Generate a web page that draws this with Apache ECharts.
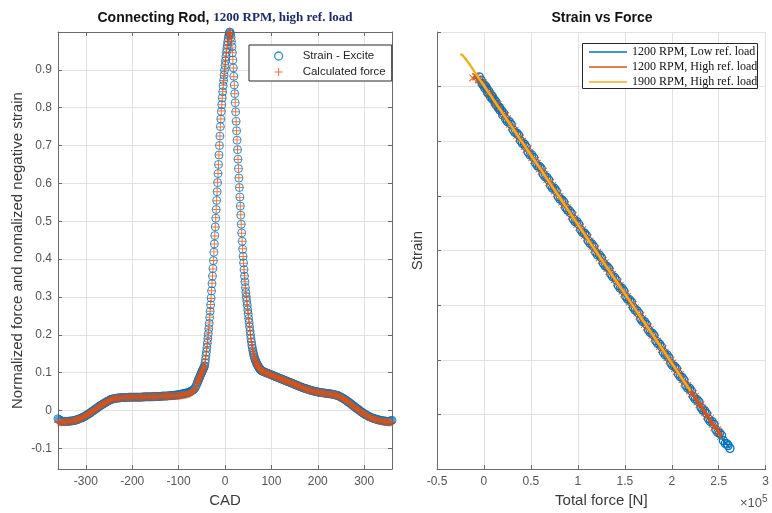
<!DOCTYPE html>
<html>
<head>
<meta charset="utf-8">
<script src="https://cdn.jsdelivr.net/npm/echarts/dist/echarts.min.js"></script>
<style>
html,body{margin:0;padding:0;background:#fff}
#chart{width:772px;height:513px}
</style>
</head>
<body>
<div id="chart"></div>
<script>
// Crank-angle sampling: 2 deg away from TDC, 1 deg around the firing peak
const preStart = -360, preStep = 2;    // -360 .. -62
const peakStart = -60, peakStep = 1;   // -60 .. 80
const postStart = 82, postStep = 2;    // 82 .. 360

// Normalized negative strain
const strainPre = [
  -0.022,-0.024,-0.026,-0.027,-0.028,-0.029,-0.029,-0.029,-0.029,-0.029, // -360
  -0.029,-0.029,-0.028,-0.028,-0.028,-0.028,-0.027,-0.027,-0.026,-0.026, // -340
  -0.025,-0.024,-0.023,-0.022,-0.021,-0.020,-0.019,-0.018,-0.017,-0.015, // -320
  -0.014,-0.012,-0.011,-0.009,-0.008,-0.006,-0.004,-0.002,-0.001,0.001,  // -300
  0.003,0.005,0.006,0.008,0.010,0.012,0.013,0.015,0.016,0.018,           // -280
  0.019,0.021,0.022,0.024,0.025,0.026,0.028,0.029,0.030,0.030,           // -260
  0.031,0.031,0.032,0.032,0.033,0.033,0.033,0.033,0.034,0.034,           // -240
  0.034,0.034,0.034,0.034,0.034,0.034,0.035,0.035,0.035,0.035,           // -220
  0.035,0.035,0.035,0.035,0.035,0.035,0.035,0.035,0.035,0.035,           // -200
  0.035,0.036,0.035,0.036,0.036,0.036,0.036,0.036,0.036,0.036,           // -180
  0.036,0.036,0.036,0.037,0.036,0.037,0.037,0.037,0.037,0.037,           // -160
  0.037,0.037,0.038,0.038,0.038,0.038,0.038,0.038,0.038,0.039,           // -140
  0.039,0.039,0.039,0.039,0.040,0.040,0.040,0.041,0.041,0.041,           // -120
  0.042,0.042,0.043,0.043,0.044,0.044,0.045,0.045,0.046,0.047,           // -100
  0.047,0.048,0.049,0.050,0.052,0.053,0.055,0.057,0.061,0.066            // -80
];
const strainPeak = [
  0.072,0.075,0.079,0.081,0.084,0.087,0.090,0.093,0.096,0.099, // -60
  0.102,0.104,0.107,0.110,0.112,0.115,0.118,0.126,0.135,0.145, // -50
  0.155,0.166,0.178,0.190,0.203,0.216,0.230,0.246,0.262,0.279, // -40
  0.297,0.316,0.335,0.355,0.375,0.396,0.418,0.440,0.462,0.485, // -30
  0.508,0.531,0.555,0.578,0.602,0.626,0.650,0.675,0.700,0.725, // -20
  0.750,0.770,0.790,0.808,0.826,0.842,0.858,0.872,0.886,0.899, // -10
  0.912,0.924,0.935,0.946,0.956,0.966,0.975,0.983,0.990,0.996, // 0
  1.000,0.999,0.995,0.986,0.975,0.961,0.945,0.926,0.905,0.883, // 10
  0.860,0.837,0.813,0.789,0.764,0.739,0.714,0.689,0.664,0.639, // 20
  0.614,0.589,0.564,0.540,0.516,0.492,0.469,0.447,0.426,0.407, // 30
  0.390,0.372,0.355,0.340,0.325,0.312,0.300,0.289,0.278,0.266, // 40
  0.255,0.243,0.232,0.221,0.210,0.200,0.190,0.181,0.172,0.165, // 50
  0.158,0.152,0.147,0.142,0.138,0.134,0.131,0.128,0.125,0.122, // 60
  0.120,0.118,0.116,0.114,0.112,0.110,0.109,0.107,0.106,0.105, // 70
  0.104                                                        // 80
];
const strainPost = [
  0.103,0.102,0.101,0.100,0.099,0.098,0.097,0.096,0.095,                 // 82
  0.094,0.093,0.092,0.091,0.090,0.089,0.088,0.087,0.086,0.085,           // 100
  0.084,0.083,0.082,0.081,0.080,0.079,0.078,0.077,0.076,0.075,           // 120
  0.074,0.073,0.072,0.071,0.070,0.069,0.068,0.067,0.066,0.065,           // 140
  0.064,0.063,0.062,0.061,0.060,0.059,0.058,0.058,0.057,0.056,           // 160
  0.055,0.054,0.054,0.053,0.052,0.052,0.051,0.050,0.050,0.049,           // 180
  0.049,0.048,0.048,0.047,0.047,0.047,0.046,0.046,0.046,0.045,           // 200
  0.045,0.045,0.044,0.044,0.044,0.043,0.043,0.042,0.042,0.041,           // 220
  0.040,0.040,0.039,0.038,0.036,0.035,0.034,0.032,0.031,0.029,           // 240
  0.028,0.026,0.024,0.022,0.021,0.019,0.017,0.015,0.013,0.011,           // 260
  0.009,0.007,0.005,0.004,0.002,0.000,-0.002,-0.004,-0.005,-0.007,       // 280
  -0.009,-0.010,-0.012,-0.013,-0.014,-0.016,-0.017,-0.018,-0.019,-0.020, // 300
  -0.021,-0.022,-0.022,-0.023,-0.024,-0.025,-0.025,-0.026,-0.026,-0.027, // 320
  -0.027,-0.028,-0.028,-0.028,-0.029,-0.029,-0.029,-0.029,-0.028,-0.027, // 340
  -0.026                                                                  // 360
];

// Normalized calculated force
const forcePre = [
  -0.031,-0.031,-0.031,-0.031,-0.031,-0.031,-0.030,-0.030,-0.030,-0.030, // -360
  -0.030,-0.029,-0.029,-0.029,-0.028,-0.028,-0.028,-0.027,-0.027,-0.026, // -340
  -0.025,-0.024,-0.023,-0.022,-0.021,-0.020,-0.019,-0.018,-0.016,-0.015, // -320
  -0.014,-0.012,-0.011,-0.009,-0.008,-0.006,-0.004,-0.003,-0.001,0.001,  // -300
  0.003,0.004,0.006,0.008,0.010,0.011,0.013,0.015,0.016,0.018,           // -280
  0.019,0.021,0.022,0.023,0.025,0.026,0.027,0.028,0.029,0.030,           // -260
  0.031,0.031,0.032,0.032,0.032,0.033,0.033,0.033,0.033,0.034,           // -240
  0.034,0.034,0.034,0.034,0.034,0.034,0.034,0.035,0.035,0.035,           // -220
  0.035,0.035,0.035,0.035,0.035,0.035,0.035,0.035,0.035,0.035,           // -200
  0.035,0.035,0.036,0.036,0.036,0.036,0.036,0.036,0.036,0.036,           // -180
  0.036,0.036,0.036,0.036,0.037,0.037,0.037,0.037,0.037,0.037,           // -160
  0.037,0.037,0.037,0.037,0.038,0.038,0.038,0.038,0.038,0.038,           // -140
  0.038,0.038,0.038,0.038,0.038,0.038,0.038,0.039,0.039,0.039,           // -120
  0.039,0.039,0.040,0.040,0.040,0.041,0.041,0.042,0.042,0.043,           // -100
  0.043,0.044,0.045,0.046,0.048,0.050,0.052,0.055,0.059,0.064            // -80
];
const forcePeak = [
  0.071,0.074,0.078,0.081,0.084,0.087,0.090,0.093,0.096,0.098, // -60
  0.101,0.104,0.107,0.109,0.112,0.115,0.118,0.125,0.134,0.144, // -50
  0.155,0.166,0.177,0.190,0.204,0.216,0.231,0.246,0.262,0.280, // -40
  0.296,0.316,0.336,0.355,0.374,0.396,0.419,0.440,0.461,0.485, // -30
  0.509,0.531,0.554,0.578,0.603,0.626,0.649,0.675,0.701,0.725, // -20
  0.749,0.770,0.791,0.808,0.825,0.842,0.859,0.872,0.885,0.899, // -10
  0.913,0.924,0.934,0.946,0.957,0.966,0.974,0.983,0.991,0.996, // 0
  1.000,0.998,0.995,0.987,0.975,0.960,0.945,0.927,0.905,0.882, // 10
  0.859,0.837,0.814,0.789,0.763,0.739,0.715,0.689,0.663,0.639, // 20
  0.615,0.589,0.563,0.540,0.517,0.492,0.468,0.447,0.427,0.407, // 30
  0.389,0.372,0.356,0.340,0.324,0.312,0.301,0.289,0.277,0.266, // 40
  0.256,0.243,0.231,0.221,0.211,0.200,0.189,0.181,0.173,0.165, // 50
  0.157,0.152,0.147,0.142,0.137,0.134,0.131,0.128,0.124,0.122, // 60
  0.120,0.117,0.115,0.114,0.112,0.110,0.108,0.107,0.106,0.104, // 70
  0.103                                                        // 80
];
const forcePost = [
  0.103,0.101,0.101,0.099,0.099,0.097,0.097,0.095,0.095,                 // 82
  0.093,0.093,0.091,0.091,0.089,0.089,0.087,0.087,0.085,0.085,           // 100
  0.083,0.083,0.081,0.081,0.079,0.079,0.077,0.077,0.075,0.075,           // 120
  0.073,0.073,0.071,0.071,0.069,0.069,0.067,0.067,0.065,0.065,           // 140
  0.063,0.063,0.061,0.061,0.059,0.059,0.057,0.057,0.056,0.055,           // 160
  0.054,0.054,0.053,0.053,0.052,0.051,0.051,0.050,0.049,0.049,           // 180
  0.048,0.048,0.047,0.047,0.046,0.046,0.046,0.045,0.045,0.045,           // 200
  0.044,0.044,0.044,0.043,0.043,0.043,0.042,0.042,0.041,0.040,           // 220
  0.040,0.039,0.038,0.037,0.036,0.034,0.033,0.032,0.030,0.029,           // 240
  0.027,0.025,0.024,0.022,0.020,0.018,0.016,0.014,0.012,0.010,           // 260
  0.008,0.006,0.005,0.003,0.001,-0.001,-0.003,-0.004,-0.006,-0.008,      // 280
  -0.010,-0.011,-0.013,-0.014,-0.015,-0.017,-0.018,-0.019,-0.020,-0.021, // 300
  -0.022,-0.023,-0.024,-0.024,-0.025,-0.026,-0.027,-0.027,-0.028,-0.028, // 320
  -0.029,-0.029,-0.030,-0.030,-0.030,-0.030,-0.031,-0.031,-0.031,-0.031, // 340
  -0.031                                                                  // 360
];

// Tick values of the left panel
const cadTicks = [-300, -200, -100, 0, 100, 200, 300];
const normTicks = [-0.1, 0, 0.1, 0.2, 0.3, 0.4, 0.5, 0.6, 0.7, 0.8, 0.9];

// Strain vs total force (force in 1e5 N, strain in microstrain)
// 1200 RPM, low reference load
const forceLow = [
  -0.05,-0.01,0.03,0.07,0.11,0.15,0.19,0.23,0.27,0.31,
  0.35,0.39,0.43,0.47,0.51,0.55,0.59,0.63,0.67,0.71,
  0.75,0.79,0.83,0.87,0.91,0.95,0.99,1.03,1.07,1.11,
  1.15,1.19,1.23,1.27,1.31,1.35,1.39,1.43,1.47,1.51,
  1.55,1.59,1.63,1.67,1.71,1.75,1.79,1.83,1.87,1.91,
  1.95,1.99,2.03,2.07,2.11,2.15,2.19,2.23,2.27,2.31,
  2.35,2.39,2.43,2.47,2.51,2.55,2.59,2.62,
  2.60,2.57,2.53,2.49,2.45,2.41,2.37,2.33,2.29,2.25,
  2.21,2.17,2.13,2.09,2.05,2.01,1.97,1.93,1.89,1.85,
  1.81,1.77,1.73,1.69,1.65,1.61,1.57,1.53,1.49,1.45,
  1.41,1.37,1.33,1.29,1.25,1.21,1.17,1.13,1.09,1.05,
  1.01,0.97,0.93,0.89,0.85,0.81,0.77,0.73,0.69,0.65,
  0.61,0.57,0.53,0.49,0.45,0.41,0.37,0.33,0.29,0.25,
  0.21,0.17,0.13,0.09,0.05,0.01,-0.03,
  0.00,0.04,0.08,0.12,0.16,0.20,0.17,0.13,0.09,0.05,0.02,-0.02];
const strainLow = [
  -82,-97,-104,-119,-124,-138,-144,-159,-164,-179,
  -185,-199,-205,-220,-225,-240,-246,-260,-266,-281,
  -286,-301,-307,-321,-327,-342,-347,-362,-368,-382,
  -388,-403,-408,-423,-429,-443,-449,-464,-469,-484,
  -490,-504,-510,-525,-530,-545,-551,-565,-571,-586,
  -591,-606,-612,-626,-632,-647,-652,-667,-673,-687,
  -693,-708,-713,-728,-734,-748,-754,-762,
  -757,-753,-738,-733,-718,-713,-698,-692,-677,-672,
  -657,-652,-637,-631,-616,-611,-596,-591,-576,-570,
  -555,-550,-535,-530,-515,-509,-494,-489,-474,-469,
  -454,-448,-433,-428,-413,-408,-393,-387,-372,-367,
  -352,-347,-332,-326,-311,-306,-291,-286,-271,-265,
  -250,-245,-230,-225,-210,-204,-189,-184,-169,-164,
  -149,-143,-128,-123,-108,-103,-88,
  -96,-111,-116,-131,-137,-152,-140,-133,-118,-112,-100,-94];

// 1200 RPM, high reference load
const forceHigh = [
  -0.12,-0.09,-0.06,-0.03,0.01,0.05,0.09,0.13,0.17,0.21,
  0.25,0.29,0.33,0.37,0.41,0.45,0.49,0.53,0.57,0.61,
  0.65,0.69,0.73,0.77,0.81,0.85,0.89,0.93,0.97,1.01,
  1.05,1.09,1.13,1.17,1.21,1.25,1.29,1.33,1.37,1.41,
  1.45,1.49,1.53,1.57,1.61,1.65,1.69,1.73,1.77,1.81,
  1.85,1.89,1.93,1.97,2.01,2.05,2.09,2.13,2.17,2.21,
  2.25,2.29,2.33,2.37,2.41,2.45,2.49,2.52,
  2.50,2.47,2.43,2.39,2.35,2.31,2.27,2.23,2.19,2.15,
  2.11,2.07,2.03,1.99,1.95,1.91,1.87,1.83,1.79,1.75,
  1.71,1.67,1.63,1.59,1.55,1.51,1.47,1.43,1.39,1.35,
  1.31,1.27,1.23,1.19,1.15,1.11,1.07,1.03,0.99,0.95,
  0.91,0.87,0.83,0.79,0.75,0.71,0.67,0.63,0.59,0.55,
  0.51,0.47,0.43,0.39,0.35,0.31,0.27,0.23,0.19,0.15,
  0.11,0.07,0.03,-0.01,-0.05,-0.08];
const strainHigh = [
  -84,-82,-87,-92,-99,-113,-119,-133,-139,-153,
  -159,-174,-180,-194,-200,-215,-220,-235,-240,-255,
  -261,-276,-281,-296,-301,-316,-322,-337,-342,-357,
  -362,-377,-383,-398,-403,-418,-423,-438,-444,-459,
  -464,-479,-484,-499,-505,-520,-525,-540,-545,-560,
  -566,-581,-586,-601,-606,-621,-627,-642,-647,-662,
  -667,-682,-688,-703,-708,-723,-728,-740,
  -731,-722,-718,-703,-697,-682,-677,-662,-657,-641,
  -636,-621,-616,-601,-596,-580,-575,-560,-555,-540,
  -535,-519,-514,-499,-494,-479,-474,-458,-453,-438,
  -433,-418,-413,-397,-392,-377,-372,-357,-352,-336,
  -331,-316,-311,-296,-291,-275,-270,-255,-250,-235,
  -230,-214,-209,-194,-189,-174,-169,-153,-148,-133,
  -128,-113,-108,-93,-88,-82];

// 1900 RPM, high reference load
const forceFast = [
  -0.25,-0.22,-0.19,-0.16,-0.13,-0.10,-0.07,-0.04,-0.01,0.02,
  0.05,0.08,0.11,0.14,0.18,0.22,0.27,0.32,0.38,0.45,
  0.52,0.60,0.68,0.77,0.86,0.96,1.06,1.16,1.26,1.36,
  1.46,1.56,1.66,1.76,1.86,1.96,2.06,2.14,2.20,
  2.12,2.02,1.91,1.80,1.69,1.58,1.47,1.36,1.25,1.14,
  1.03,0.92,0.82,0.72,0.63,0.54,0.46,0.38,0.31,0.25,
  0.19,0.14,0.09,0.05,0.01,-0.03,-0.07,-0.11,-0.15,-0.19,-0.23];
const strainFast = [
  -40,-44,-51,-57,-65,-73,-80,-88,-95,-103,
  -111,-118,-126,-134,-144,-154,-167,-179,-195,-212,
  -231,-250,-271,-294,-317,-342,-367,-393,-418,-444,
  -469,-494,-520,-545,-570,-596,-621,-642,-657,
  -637,-611,-583,-555,-527,-499,-471,-443,-416,-388,
  -360,-332,-306,-281,-258,-235,-215,-195,-177,-162,
  -146,-134,-121,-111,-101,-91,-81,-70,-60,-50,-42];

const seriesNames = ['Strain - Excite', 'Calculated force'];
const loadNames = ['1200 RPM, Low ref. load', '1200 RPM, High ref. load', '1900 RPM, High ref. load'];

// ---- styling ----
const C_BLUE = '#0072BD', C_ORANGE = '#D95319', C_YELLOW = '#EDB120';
const AXIS_COLOR = '#6a6a6a', GRID_COLOR = '#e2e2e2', TICK_TEXT = '#555', NAME_TEXT = '#3a3a3a';
const SANS = 'Liberation Sans, Arial, Helvetica, sans-serif';
const SERIF = 'Liberation Serif, Times New Roman, serif';
const PLUS = 'path://M4.4,0H5.6V4.4H10V5.6H5.6V10H4.4V5.6H0V4.4H4.4Z';
const CROSS = 'path://M0,0.8L0.8,0L5,4.2L9.2,0L10,0.8L5.8,5L10,9.2L9.2,10L5,5.8L0.8,10L0,9.2L4.2,5Z';

const grid = (start, step, n) => Array.from({ length: n }, (_, i) => start + i * step);
const cad = [].concat(
  grid(preStart, preStep, strainPre.length),
  grid(peakStart, peakStep, strainPeak.length),
  grid(postStart, postStep, strainPost.length)
);
const strainNorm = [].concat(strainPre, strainPeak, strainPost);
const forceNorm = [].concat(forcePre, forcePeak, forcePost);
const pairs = (xs, ys) => xs.map((x, i) => [x, ys[i]]);

const baseLine = { show: true, onZero: false, lineStyle: { color: AXIS_COLOR, width: 1 } };
const innerTick = { show: true, inside: true, length: 4, lineStyle: { color: AXIS_COLOR } };
const tickFont = { fontFamily: SANS, fontSize: 12, color: TICK_TEXT };
const nameFont = { fontFamily: SANS, fontSize: 15, color: NAME_TEXT };

const chart = echarts.init(document.getElementById('chart'), null, { renderer: 'canvas' });

chart.setOption({
  animation: false,
  backgroundColor: '#fff',
  grid: [
    { left: 58, right: 380, top: 32, bottom: 41 },
    { left: 437, right: 4, top: 32, bottom: 41 }
  ],
  xAxis: [
    { // left panel, bottom
      type: 'value', gridIndex: 0, min: -360, max: 360,
      name: 'CAD', nameLocation: 'middle', nameGap: 20, nameTextStyle: nameFont,
      axisLine: baseLine,
      axisTick: Object.assign({}, innerTick, { customValues: cadTicks }),
      axisLabel: Object.assign({}, tickFont, { margin: 7, customValues: cadTicks }),
      splitLine: { show: true, lineStyle: { color: GRID_COLOR, width: 1 } }
    },
    { // left panel, top frame
      type: 'value', gridIndex: 0, position: 'top', min: -360, max: 360,
      axisLine: baseLine,
      axisTick: Object.assign({}, innerTick, { customValues: cadTicks }),
      axisLabel: { show: false, customValues: cadTicks },
      splitLine: { show: false }
    },
    { // right panel, bottom
      type: 'value', gridIndex: 1, min: -0.5, max: 3, interval: 0.5,
      name: 'Total force [N]', nameLocation: 'middle', nameGap: 21, nameTextStyle: nameFont,
      axisLine: baseLine,
      axisTick: innerTick,
      axisLabel: Object.assign({}, tickFont, { margin: 7 }),
      splitLine: { show: true, lineStyle: { color: GRID_COLOR, width: 1 } }
    }
  ],
  yAxis: [
    { // left panel, left
      type: 'value', gridIndex: 0, min: -0.155, max: 1,
      name: 'Normalized force and nomalized negative strain', nameLocation: 'middle', nameGap: 33,
      nameTextStyle: nameFont,
      axisLine: baseLine,
      axisTick: Object.assign({}, innerTick, { customValues: normTicks }),
      axisLabel: Object.assign({}, tickFont, { margin: 6, customValues: normTicks }),
      splitLine: { show: true, lineStyle: { color: GRID_COLOR, width: 1 } }
    },
    { // left panel, right frame
      type: 'value', gridIndex: 0, position: 'right', min: -0.155, max: 1,
      axisLine: baseLine,
      axisTick: Object.assign({}, innerTick, { customValues: normTicks }),
      axisLabel: { show: false, customValues: normTicks },
      splitLine: { show: false }
    },
    { // right panel, left (unlabelled strain axis)
      type: 'value', gridIndex: 1, min: -800, max: 0, interval: 100,
      name: 'Strain', nameLocation: 'middle', nameGap: 12, nameTextStyle: nameFont,
      axisLine: baseLine,
      axisTick: innerTick,
      axisLabel: { show: false },
      splitLine: { show: true, lineStyle: { color: GRID_COLOR, width: 1 } }
    }
  ],
  legend: [
    {
      data: [
        { name: seriesNames[0], icon: 'circle', itemStyle: { color: 'rgba(0,0,0,0)', borderColor: C_BLUE, borderWidth: 1.3 } },
        { name: seriesNames[1], icon: PLUS, itemStyle: { color: C_ORANGE, borderWidth: 0 } }
      ],
      orient: 'vertical', left: 249, top: 45, z: 10,
      itemWidth: 38, itemHeight: 8, itemGap: 2,
      padding: [4, 6, 2, 25],
      borderColor: '#262626', borderWidth: 1, backgroundColor: '#fff',
      selectedMode: false,
      textStyle: { fontFamily: SANS, fontSize: 11.5, color: '#262626', lineHeight: 14 }
    },
    {
      data: loadNames.map((n, i) => ({
        name: n, icon: 'rect',
        itemStyle: { color: [C_BLUE, C_ORANGE, C_YELLOW][i], borderWidth: 0 }
      })),
      orient: 'vertical', left: 589, top: 45, z: 10,
      itemWidth: 38, itemHeight: 1.5, itemGap: 1,
      padding: 0, selectedMode: false,
      textStyle: { fontFamily: SERIF, fontSize: 12, color: '#111', lineHeight: 14 }
    }
  ],
  graphic: [
    {
      type: 'text', x: 225, y: 18, z: 10,
      style: {
        text: '{a|Connecting Rod, }{b|1200 RPM, high ref. load}',
        align: 'center', verticalAlign: 'middle',
        rich: {
          a: { fontFamily: SANS, fontSize: 14, fontWeight: 'bold', fill: '#111' },
          b: { fontFamily: SERIF, fontSize: 13, fontWeight: 'bold', fill: '#1b2a66' }
        }
      }
    },
    {
      type: 'text', x: 602, y: 18, z: 10,
      style: { text: 'Strain vs Force', align: 'center', verticalAlign: 'middle',
        fontFamily: SANS, fontSize: 14, fontWeight: 'bold', fill: '#111' }
    },
    {
      type: 'text', x: 740, y: 503, z: 10,
      style: {
        text: '{a|\u00d710}{s|5}', align: 'left', verticalAlign: 'middle',
        rich: {
          a: { fontFamily: SANS, fontSize: 13, fill: TICK_TEXT },
          s: { fontFamily: SANS, fontSize: 10, fill: TICK_TEXT, verticalAlign: 'top', padding: [0, 0, 8, 0] }
        }
      }
    },
    { // frame of the right-hand legend
      type: 'rect', z: 5,
      shape: { x: 582.5, y: 43.5, width: 175, height: 45 },
      style: { fill: '#fff', stroke: '#262626', lineWidth: 1 }
    }
  ],
  series: [
    {
      name: seriesNames[0], type: 'scatter', xAxisIndex: 0, yAxisIndex: 0,
      data: pairs(cad, strainNorm),
      symbol: 'circle', symbolSize: 8,
      itemStyle: { color: 'rgba(0,0,0,0)', borderColor: C_BLUE, borderWidth: 1 },
      emphasis: { disabled: true }
    },
    {
      name: seriesNames[1], type: 'scatter', xAxisIndex: 0, yAxisIndex: 0,
      data: pairs(cad, forceNorm),
      symbol: PLUS, symbolSize: 8,
      itemStyle: { color: C_ORANGE },
      emphasis: { disabled: true }
    },
    {
      name: loadNames[0], type: 'line', xAxisIndex: 2, yAxisIndex: 2, z: 2,
      data: pairs(forceLow, strainLow),
      symbol: 'circle', symbolSize: 8, showSymbol: true,
      lineStyle: { color: C_BLUE, width: 1.5 },
      itemStyle: { color: 'rgba(0,0,0,0)', borderColor: C_BLUE, borderWidth: 1.3 },
      emphasis: { disabled: true }
    },
    {
      name: loadNames[1], type: 'line', xAxisIndex: 2, yAxisIndex: 2, z: 3,
      data: pairs(forceHigh, strainHigh),
      symbol: CROSS, symbolSize: 7.5, showSymbol: true,
      lineStyle: { color: C_ORANGE, width: 2.2 },
      itemStyle: { color: C_ORANGE },
      emphasis: { disabled: true }
    },
    {
      name: loadNames[2], type: 'line', xAxisIndex: 2, yAxisIndex: 2, z: 4,
      data: pairs(forceFast, strainFast),
      showSymbol: false,
      lineStyle: { color: C_YELLOW, width: 2.3 },
      itemStyle: { color: C_YELLOW },
      emphasis: { disabled: true }
    }
  ]
});
</script>
</body>
</html>
